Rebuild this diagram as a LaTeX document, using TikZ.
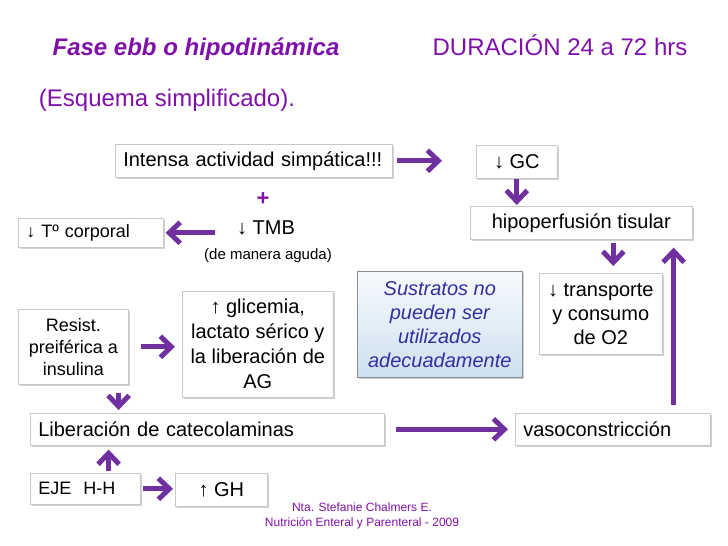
\documentclass[tikz,border=0pt]{standalone}
\usepackage{fontspec}
\setmainfont{Liberation Sans}
\usepackage{xcolor}
\usepackage{tikz}
\usetikzlibrary{positioning,arrows.meta,shadows}
\definecolor{morado}{RGB}{112,48,160}
\definecolor{titulo}{RGB}{128,16,170}
\definecolor{sustrato}{RGB}{50,48,160}
\definecolor{celeste}{RGB}{205,224,240}
\definecolor{borde}{RGB}{200,200,200}
\tikzset{
  caja/.style={draw=borde, line width=0.6pt, fill=white, anchor=north west,
    drop shadow={shadow xshift=2pt, shadow yshift=-2pt, opacity=0.25, fill=black!70},
    inner xsep=8pt, inner ysep=0pt, font=\fontsize{20}{25}\selectfont},
  flecha/.style={draw=morado, line width=5pt, -{Straight Barb[length=11pt,width=21pt]}},
  texto/.style={inner sep=0pt, text=titulo},
}

\begin{document}
\begin{tikzpicture}[x=1pt, y=-1pt]
  \useasboundingbox (0,0) rectangle (728,546);
  % titles
  \node[texto, font=\bfseries\itshape\fontsize{24}{28}\selectfont] (fase) at (196,49) {Fase ebb o hipodinámica};
  \node[texto, font=\fontsize{24}{28}\selectfont] (duracion) at (560,45) {DURACIÓN 24 a 72 hrs};
  \node[texto, font=\fontsize{24}{28}\selectfont] (esquema) at (167,100) {(Esquema simplificado).};
  % boxes
  \node[caja, minimum width=277pt, minimum height=33pt, text width=261pt, align=left] (intensa) at (115,144) {Intensa actividad simpática!!!};
  \node[caja, minimum width=81pt, minimum height=33pt] (gc) at (476,145) {↓ GC};
  \node[caja, minimum width=145pt, minimum height=29pt, text width=129pt, align=left, font=\fontsize{18}{22}\selectfont] (tcorp) at (18,218) {↓ Tº corporal};
  \node[caja, minimum width=222pt, minimum height=33pt] (hipo) at (470,206) {hipoperfusión tisular};
  \node[caja, minimum width=165pt, minimum height=106pt, align=center, draw=black!45, top color=white!85!celeste, bottom color=celeste, text=sustrato, font=\itshape\fontsize{20}{24}\selectfont] (sustr) at (357,271) {Sustratos no\\pueden ser\\utilizados\\adecuadamente};
  \node[caja, minimum width=123pt, minimum height=81pt, align=center, font=\fontsize{20}{24}\selectfont] (transp) at (539,273) {↓ transporte\\y consumo\\de O2};
  \node[caja, minimum width=110pt, minimum height=75pt, align=center, font=\fontsize{18}{22}\selectfont] (resist) at (18,309) {Resist.\\preiférica a\\insulina};
  \node[caja, minimum width=151pt, minimum height=106pt, align=center] (glic) at (182,291) {↑ glicemia,\\lactato sérico y\\la liberación de\\AG};
  \node[caja, minimum width=354pt, minimum height=32pt, text width=338pt, align=left] (liber) at (30,413) {Liberación de catecolaminas};
  \node[caja, minimum width=195pt, minimum height=32pt, text width=179pt, align=left] (vaso) at (515,413) {vasoconstricción};
  \node[caja, minimum width=110pt, minimum height=31pt, text width=94pt, align=left, font=\fontsize{18}{22}\selectfont] (eje) at (30,473) {EJE\ \ H-H};
  \node[caja, minimum width=92pt, minimum height=33pt] (gh) at (175,473) {↑ GH};
  % free text
  \node[texto, font=\bfseries\fontsize{22}{26}\selectfont] (mas) at (263,199) {+};
  \node[texto, text=black, font=\fontsize{20}{24}\selectfont] (tmb) at (266,228) {↓ TMB};
  \node[texto, text=black, font=\fontsize{15}{18}\selectfont] (aguda) at (268,256) {(de manera aguda)};
  \node[texto, align=center, font=\fontsize{12}{15}\selectfont] (firma) at (362,516) {Nta. Stefanie Chalmers E.\\Nutrición Enteral y Parenteral - 2009};
  % arrows
  \draw[flecha, shorten <=4pt, shorten >=34pt] (intensa.east) -- (intensa.east -| gc.west);
  \draw[flecha, shorten >=1pt] (gc.south) -- (gc.south |- hipo.north);
  \draw[flecha, shorten <=22pt, shorten >=2pt] (tmb.west |- tcorp.east) -- (tcorp.east);
  \draw[flecha, shorten <=3pt, shorten >=7pt] ([xshift=32pt]hipo.south) -- ([xshift=32pt]hipo.south |- transp.north);
  \draw[flecha, shorten <=8pt, shorten >=8pt] ([xshift=-19pt]hipo.south east |- vaso.north) -- ([xshift=-19pt]hipo.south east);
  \draw[flecha, shorten <=12pt, shorten >=7pt] (resist.east) -- (resist.east -| glic.west);
  \draw[flecha, shorten <=8pt, shorten >=3pt] ([xshift=-10pt]resist.south east) -- ([xshift=-10pt]resist.south east |- liber.north);
  \draw[flecha, shorten <=11pt, shorten >=7pt] (liber.east) -- (liber.east -| vaso.west);
  \draw[flecha, shorten <=2pt, shorten >=4pt] ([xshift=-32pt]eje.north east) -- ([xshift=-32pt]eje.north east |- liber.south);
  \draw[flecha, shorten <=2pt, shorten >=2pt] (eje.east) -- (eje.east -| gh.west);
\end{tikzpicture}
\end{document}
